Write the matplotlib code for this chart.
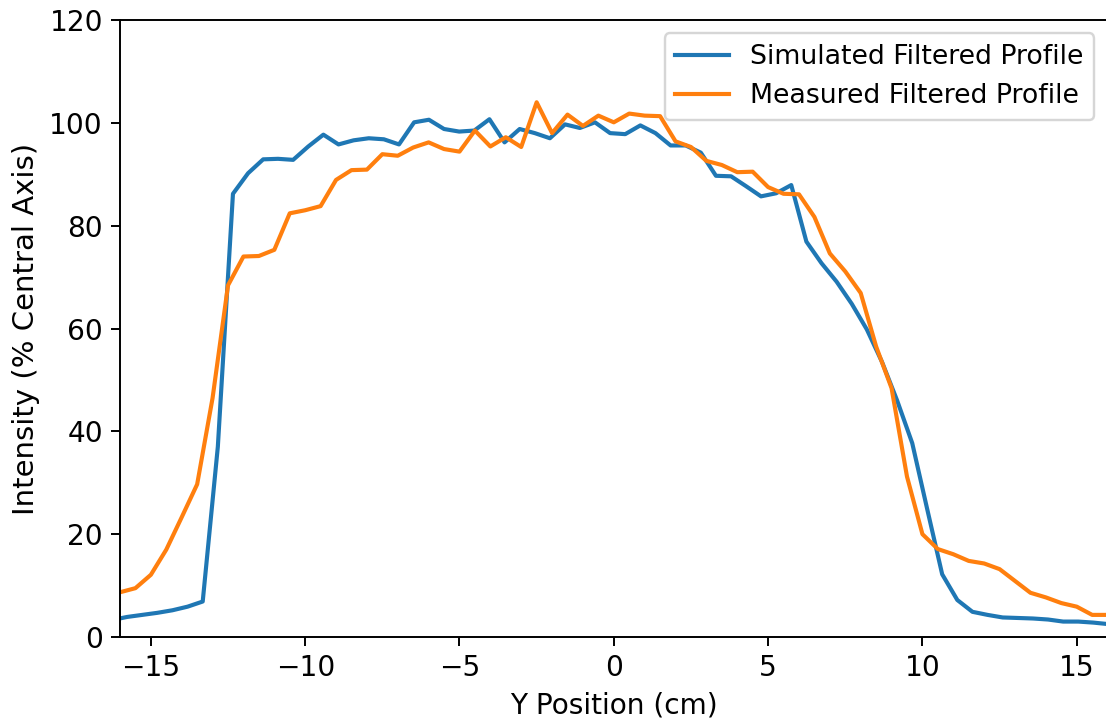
import matplotlib
matplotlib.use("Agg")
import matplotlib.pyplot as plt

# Simulated profile (blue)
sim_x = [-16.25, -15.77, -15.28, -14.79, -14.30, -13.81, -13.32, -12.83, -12.34, -11.85,
         -11.36, -10.88, -10.39, -9.90, -9.41, -8.92, -8.43, -7.94, -7.45, -6.96,
         -6.47, -5.99, -5.50, -5.01, -4.52, -4.03, -3.54, -3.05, -2.56, -2.07,
         -1.58, -1.10, -0.61, -0.12, 0.37, 0.86, 1.35, 1.84, 2.33, 2.82,
         3.31, 3.80, 4.28, 4.77, 5.26, 5.75, 6.24, 6.73, 7.22, 7.71,
         8.20, 8.69, 9.18, 9.67, 10.15, 10.64, 11.13, 11.62, 12.11, 12.60,
         13.09, 13.58, 14.07, 14.56, 15.05, 15.54, 16.03, 16.52]
sim_y = [3.3, 3.9, 4.3, 4.7, 5.2, 5.9, 6.9, 37.0, 86.2, 90.2,
         92.9, 93.0, 92.8, 95.4, 97.7, 95.8, 96.6, 97.0, 96.8, 95.8,
         100.1, 100.6, 98.8, 98.3, 98.5, 100.7, 96.2, 98.8, 98.0, 97.0,
         99.7, 99.0, 100.1, 98.0, 97.8, 99.5, 98.0, 95.6, 95.6, 94.2,
         89.7, 89.6, 87.7, 85.7, 86.3, 87.9, 76.9, 72.7, 69.1, 64.8,
         59.8, 53.5, 46.0, 37.7, 25.0, 12.2, 7.2, 4.9, 4.3, 3.8,
         3.7, 3.6, 3.4, 3.0, 3.0, 2.8, 2.5, 2.3]

# Measured profile (orange)
meas_x = [-16.0, -15.5, -15.0, -14.5, -14.0, -13.5, -13.0, -12.5, -12.0, -11.5,
          -11.0, -10.5, -10.0, -9.5, -9.0, -8.5, -8.0, -7.5, -7.0, -6.5,
          -6.0, -5.5, -5.0, -4.5, -4.0, -3.5, -3.0, -2.5, -2.0, -1.5,
          -1.0, -0.5, 0.0, 0.5, 1.0, 1.5, 2.0, 2.5, 3.0, 3.5,
          4.0, 4.5, 5.0, 5.5, 6.0, 6.5, 7.0, 7.5, 8.0, 8.5,
          9.0, 9.5, 10.0, 10.5, 11.0, 11.5, 12.0, 12.5, 13.0, 13.5,
          14.0, 14.5, 15.0, 15.5, 16.0]
meas_y = [8.7, 9.5, 12.1, 17.0, 23.3, 29.7, 46.5, 68.4, 74.0, 74.1,
          75.3, 82.4, 83.0, 83.8, 88.9, 90.8, 90.9, 93.9, 93.6, 95.2,
          96.2, 94.9, 94.4, 98.5, 95.4, 97.2, 95.3, 104.0, 98.0, 101.6,
          99.4, 101.4, 100.1, 101.8, 101.4, 101.3, 96.4, 95.3, 92.6, 91.8,
          90.4, 90.5, 87.5, 86.2, 86.1, 81.7, 74.6, 71.1, 66.9, 56.5,
          48.4, 31.2, 20.0, 17.1, 16.1, 14.8, 14.3, 13.2, 10.9, 8.6,
          7.7, 6.6, 5.9, 4.3, 4.3]

x_ticks = [-15, -10, -5, 0, 5, 10, 15]
y_ticks = [0, 20, 40, 60, 80, 100, 120]

DPI = 175
fig = plt.figure(figsize=(1106 / DPI, 721 / DPI), dpi=DPI)
ax = fig.add_axes([120 / 1106, 84 / 721, 987.6 / 1106, 617 / 721])

ax.plot(sim_x, sim_y, color="#1f77b4", lw=1.7, label="Simulated Filtered Profile")
ax.plot(meas_x, meas_y, color="#ff7f0e", lw=1.7, label="Measured Filtered Profile")

ax.set_xlim(-16, 16)
ax.set_ylim(0, 120)
ax.set_xticks(x_ticks)
ax.set_yticks(y_ticks)
ax.tick_params(labelsize=11.5)
ax.set_xlabel("Y Position (cm)", fontsize=11.5)
ax.set_ylabel("Intensity (% Central Axis)", fontsize=12)
ax.legend(loc="upper right", fontsize=11)

fig.savefig("out.png", dpi=DPI)
